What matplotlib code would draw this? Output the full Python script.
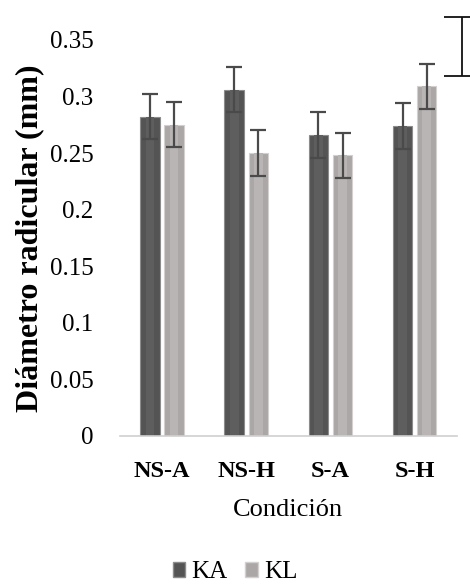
import numpy as np
import matplotlib.pyplot as plt
from matplotlib.patches import Patch

plt.rcParams['font.family'] = ['Liberation Serif', 'DejaVu Serif']

# Data
condiciones = ['NS-A', 'NS-H', 'S-A', 'S-H']
ka = [0.282, 0.306, 0.266, 0.274]
kl = [0.275, 0.250, 0.248, 0.309]
ka_err = [0.020, 0.020, 0.020, 0.020]
kl_err = [0.020, 0.020, 0.020, 0.020]
yticks = [0, 0.05, 0.1, 0.15, 0.2, 0.25, 0.3, 0.35]
ytick_labels = ['0', '0.05', '0.1', '0.15', '0.2', '0.25', '0.3', '0.35']

fig = plt.figure(figsize=(4.7, 5.86), dpi=100)
ax = fig.add_axes([0.255, 0.256, 0.717, 0.676])

x = np.arange(len(condiciones))
w = 0.23
off = 0.143

# KA bars (dark) with a lighter core stripe for the bevel look
ax.bar(x - off, ka, w, color='#545454', edgecolor='#8c8c8c', linewidth=0.8, zorder=2)
ax.bar(x - off, ka, w * 0.45, color='#5e5e5e', zorder=2.1)
# KL bars (light)
ax.bar(x + off, kl, w, color='#aca7a7', edgecolor='#d4d0d0', linewidth=0.8, zorder=2)
ax.bar(x + off, kl, w * 0.45, color='#bab5b5', zorder=2.1)

ax.errorbar(x - off, ka, yerr=ka_err, fmt='none', ecolor='#4a4a4a',
            elinewidth=1.6, capsize=6, capthick=1.6, zorder=3)
ax.errorbar(x + off, kl, yerr=kl_err, fmt='none', ecolor='#4a4a4a',
            elinewidth=1.6, capsize=6, capthick=1.6, zorder=3)

# stray error bar outside the plot area
stray = ax.errorbar([3.56], [0.344], yerr=[0.026], fmt='none', ecolor='#111111',
                    elinewidth=1.3, capsize=13, capthick=1.3, zorder=3)
for art in stray.get_children():
    art.set_clip_on(False)

ax.set_xlim(-0.5, 3.5)
ax.set_ylim(0, 0.35)
ax.set_yticks(yticks)
ax.set_yticklabels(ytick_labels)
ax.set_xticks(x)
ax.set_xticklabels(condiciones, fontweight='bold')
ax.tick_params(axis='y', length=0, labelsize=18, pad=19)
ax.tick_params(axis='x', length=0, labelsize=17.5, pad=18)

for s in ['top', 'right', 'left']:
    ax.spines[s].set_visible(False)
ax.spines['bottom'].set_color('#d0d0d0')
ax.spines['bottom'].set_linewidth(1.2)

ax.set_xlabel('Condición', fontsize=19, labelpad=12)
ax.set_ylabel('Diámetro radicular (mm)', fontsize=23, fontweight='bold', labelpad=4)

handles = [Patch(facecolor='#545454', edgecolor='#8c8c8c', label='KA'),
           Patch(facecolor='#aca7a7', edgecolor='#d4d0d0', label='KL')]
fig.legend(handles=handles, loc='lower center', bbox_to_anchor=(0.5, -0.034), ncol=2,
           frameon=False, fontsize=18, handlelength=0.5, handleheight=0.5,
           handletextpad=0.25, columnspacing=0.7)

fig.savefig('out.png', dpi=100)
